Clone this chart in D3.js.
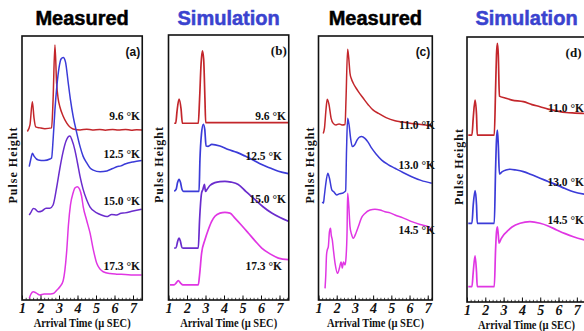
<!DOCTYPE html>
<html><head><meta charset="utf-8">
<script src="https://cdn.jsdelivr.net/npm/d3@7"></script>
<style>
html,body{margin:0;padding:0;background:#fff;}
svg{display:block;}
</style></head>
<body>
<svg id="chart" width="584" height="331"></svg>
<script>
// ---------- DATA ----------
const xTickValues = [1, 2, 3, 4, 5, 6, 7];
const xAxisTitle = "Arrival Time (\u00b5 SEC)";
const yAxisTitle = "Pulse Height";
const panelTitles = ["Measured", "Simulation", "Measured", "Simulation"];
const panelLetters = ["(a)", "(b)", "(c)", "(d)"];
const tempsAB = ["9.6 \u00b0K", "12.5 \u00b0K", "15.0 \u00b0K", "17.3 \u00b0K"];
const tempsCD = ["11.0 \u00b0K", "13.0 \u00b0K", "14.5 \u00b0K"];

// Panel (a) measured: [arrival time, pulse height (arb.)]
const a_96 = [[1.29,63.8],[1.43,66.3],[1.56,75.1],[1.65,68.9],[1.74,65.6],[1.97,65.2],[2.24,64.9],[2.6,65.2],[2.68,75.8],[2.78,96.6],[2.87,82.2],[2.95,76.5],[3.05,73.1],[3.22,69.7],[3.42,67],[3.76,64.8],[4.14,64.4],[4.5,64.7],[4.8,64.4],[5.2,64.6],[5.5,64.3],[5.9,64.6],[6.2,64.4],[6.6,64.6],[6.9,64.3],[7.2,64.5],[7.49,64.4]];
const a_125 = [[1.39,50.5],[1.49,53.8],[1.56,55.6],[1.65,54.5],[1.88,53],[2.19,52.8],[2.51,53.4],[2.6,53.8],[2.68,60.6],[2.78,72],[2.89,81.4],[3.0,87.9],[3.11,91.3],[3.23,91.9],[3.35,90.2],[3.5,82.2],[3.62,75.8],[3.77,69.4],[3.95,63.6],[4.14,58.1],[4.3,54.5],[4.5,51.9],[4.68,50],[4.85,49.2],[5.22,48.6],[5.59,48.9],[5.9,49.8],[6.12,50.5],[6.35,50.8],[6.57,51.5],[7.0,52.3],[7.47,52.8]];
const a_150 = [[1.39,32.2],[1.49,33.3],[1.61,34.7],[1.7,34.5],[1.88,33.4],[2.08,33.7],[2.3,34.8],[2.51,34.8],[2.68,36],[2.88,42.9],[3.05,50],[3.22,56.1],[3.38,60.2],[3.49,61.7],[3.59,62.1],[3.7,60.6],[3.86,56.8],[4.0,51.9],[4.14,46.7],[4.3,42],[4.5,37.9],[4.68,35.2],[5.04,33],[5.3,32.2],[5.58,31.6],[5.85,32.4],[6.12,32.2],[6.35,32.9],[6.57,33],[7.0,33.7],[7.47,34.4]];
const a_173 = [[1.39,0.6],[1.49,2.3],[1.61,3.1],[1.76,2.7],[1.97,1.9],[2.19,2.3],[2.41,2.3],[2.69,2.5],[2.89,3.8],[3.05,5],[3.22,7.2],[3.32,11.4],[3.42,18.9],[3.51,28.4],[3.62,36],[3.76,40.5],[3.86,42.4],[3.99,42.9],[4.11,42],[4.22,39.4],[4.31,35.3],[4.49,30.3],[4.68,25.3],[4.86,18.9],[5.04,13.9],[5.22,11.7],[5.39,10.7],[5.76,10],[6.12,9.8],[6.57,9.7],[7.0,9.5],[7.47,9.5]];

// Panel (b) simulation
const b_96 = [[1.31,66.7],[1.39,66.7],[1.46,71.2],[1.57,75.8],[1.68,72],[1.75,66.7],[2.16,66.7],[2.61,66.7],[2.68,75.8],[2.76,89],[2.83,94],[2.9,90.9],[2.97,75.8],[3.01,66.9],[7.5,66.9]];
const b_125 = [[1.31,41],[1.41,41.7],[1.49,44.3],[1.57,45.5],[1.65,44.3],[1.73,41.7],[1.81,41],[2.65,41],[2.7,53],[2.78,62.5],[2.88,66.3],[2.96,64.4],[3.03,58.1],[3.14,58],[3.34,58.7],[3.78,58.1],[4.23,56.8],[4.7,55.7],[5.14,54.3],[5.57,52.8],[6.04,51.1],[6.49,49.8],[6.94,48.6],[7.48,47.7]];
const b_150 = [[1.31,19.6],[1.41,19.7],[1.49,22],[1.57,23.4],[1.65,22],[1.73,19.7],[1.81,19.6],[2.61,19.6],[2.68,30.3],[2.79,40.4],[2.86,41.7],[2.94,43.6],[3.0,41],[3.08,41.7],[3.24,43.2],[3.51,44.3],[3.78,44.7],[4.05,44.8],[4.38,44.5],[4.77,43.6],[5.19,40.9],[5.68,37.9],[6.11,35.2],[6.58,32.8],[7.03,31.1],[7.48,29.7]];
const b_173 = [[1.08,5.7],[1.3,5.7],[1.41,6.4],[1.53,7.3],[1.65,6.4],[1.78,5.7],[2.61,5.7],[2.68,9.5],[2.79,17.7],[2.97,22.7],[3.15,26.5],[3.32,29.5],[3.51,31.6],[3.78,32.8],[4.05,33.1],[4.32,32.8],[4.59,30.9],[4.92,28.4],[5.31,25.3],[5.68,22.3],[6.04,19.6],[6.49,17.4],[6.94,15.8],[7.48,15.2]];

// Panel (c) measured
const c_110 = [[1.26,63.1],[1.33,65.2],[1.41,72],[1.48,76],[1.58,73.9],[1.69,68.9],[1.81,66.9],[1.96,66.3],[2.13,66.7],[2.29,66.3],[2.46,66.5],[2.51,75.8],[2.6,95],[2.66,91.7],[2.73,85.9],[2.81,83.7],[2.91,82.1],[3.06,80.3],[3.19,78.9],[3.45,76.5],[3.74,73.9],[3.99,72],[4.29,70.7],[4.71,69.1],[5.2,67.9],[5.64,67.4],[6.12,66.9],[6.63,66.5],[7.22,65.9]];
const c_130 = [[1.21,37.2],[1.27,36.7],[1.32,39.4],[1.38,42.9],[1.51,48],[1.6,46.2],[1.73,41.7],[1.85,40.9],[2.0,39.8],[2.13,40.2],[2.36,40.6],[2.49,41.3],[2.54,56.8],[2.6,68.8],[2.68,66.3],[2.76,61.4],[2.86,58.1],[2.98,58.7],[3.12,60.6],[3.25,61.7],[3.37,61.9],[3.55,61.2],[3.72,59.8],[3.92,57.5],[4.16,55.3],[4.47,53],[4.82,51.3],[5.2,49.9],[5.64,48.3],[6.12,46.7],[6.63,45.3],[7.22,44.2]];
const c_145 = [[1.36,4.4],[1.4,9.5],[1.44,17],[1.48,18.9],[1.54,20.2],[1.6,25.8],[1.66,27.2],[1.7,24.6],[1.76,22.7],[1.82,18.9],[1.91,13.9],[2.05,10.1],[2.15,12.1],[2.24,14.4],[2.31,12.1],[2.37,14.4],[2.46,13.3],[2.51,15.9],[2.57,26.5],[2.6,40.4],[2.66,36],[2.73,27.8],[2.81,25],[2.91,23.4],[3.06,25.4],[3.19,27.8],[3.36,31.1],[3.55,32.8],[3.83,34.1],[4.1,34.4],[4.38,34.1],[4.65,33.4],[4.93,33],[5.2,32.2],[5.64,31.1],[6.12,29.7],[6.58,28.6],[7.03,27.8],[7.22,26.5]];

// Panel (d) simulation
const d_110 = [[1.07,63],[1.27,63],[1.34,69.4],[1.44,76.2],[1.52,70.6],[1.56,63],[2.49,63],[2.56,80],[2.61,93.2],[2.66,97.6],[2.71,93.2],[2.77,77.7],[3.08,77],[3.46,76.2],[4.08,75.6],[4.55,74.5],[4.99,73.7],[5.43,72.8],[5.9,72.1],[6.41,71.5],[6.9,71.3],[7.5,71.1]];
const d_130 = [[1.07,29.7],[1.27,29.7],[1.34,36.6],[1.44,42],[1.52,36.6],[1.56,29.7],[2.49,29.7],[2.56,49.8],[2.61,61.1],[2.66,64.9],[2.71,59.2],[2.77,48.3],[2.91,49.1],[3.13,49.8],[3.35,50.1],[3.68,49.8],[4.08,49.2],[4.5,48.1],[4.99,46.7],[5.43,45.5],[5.9,44.2],[6.36,42.8],[6.81,41.6],[7.5,40.6]];
const d_145 = [[1.07,5.8],[1.27,5.8],[1.34,11.3],[1.44,17.4],[1.52,11.3],[1.56,5.8],[2.49,5.8],[2.56,19.6],[2.61,26.4],[2.66,28.4],[2.71,25.3],[2.75,22.2],[2.86,23.8],[3.0,25.3],[3.17,26.5],[3.46,28.3],[3.9,29.7],[4.44,30.3],[4.99,29.7],[5.43,28.7],[5.9,27.2],[6.36,25.8],[6.81,24.6],[7.5,23.2]];

// ---------- STYLE / LAYOUT ----------
const RED = "#c3262b", BLUE = "#3b3bd8", PURPLE = "#6a2ccd", MAGENTA = "#e036e3";
const colorsAB = [RED, BLUE, PURPLE, MAGENTA];
const colorsCD = [RED, BLUE, MAGENTA];

const panels = [
  {left:22, right:142.25, top:36, bottom:300, xMax:7.5, title:0, titleColor:"#000", letterSans:true,
   series:[a_96,a_125,a_150,a_173], temps:tempsAB, colors:colorsAB, sw:1.5,
   labelX:[140,140,140,140], labelY:[120,158,205,270], yTitleX:16.5},
  {left:168.5, right:288.75, top:35, bottom:300, xMax:7.5, title:1, titleColor:"#3a43cf", letterSans:false,
   series:[b_96,b_125,b_150,b_173], temps:tempsAB, colors:colorsAB, sw:1.7,
   labelX:[286,282,286,282], labelY:[120,160,203,270], yTitleX:163},
  {left:318.5, right:432.3, top:36, bottom:300, xMax:7.25, title:2, titleColor:"#000", letterSans:true,
   series:[c_110,c_130,c_145], temps:tempsCD, colors:colorsCD, sw:1.5,
   labelX:[435,435,435], labelY:[129,168.5,233.5], yTitleX:313.5},
  {left:467, right:586, top:37, bottom:302, xMax:7.5, title:3, titleColor:"#3a43cf", letterSans:false,
   series:[d_110,d_130,d_145], temps:tempsCD, colors:colorsCD, sw:1.7,
   labelX:[584,584,584], labelY:[111.5,186,224], yTitleX:462.5}
];

const svg = d3.select("#chart");
const serif = "'Liberation Serif','Times New Roman',serif";
const sans = "'Liberation Sans',Arial,Helvetica,sans-serif";

panels.forEach((p, i) => {
  const x = d3.scaleLinear().domain([1, p.xMax]).range([p.left, p.right]);
  const y = d3.scaleLinear().domain([0, 100]).range([p.bottom, p.top]);
  const g = svg.append("g");
  const cx = (p.left + p.right) / 2;

  // title
  svg.append("text").attr("x", cx).attr("y", 24.5).attr("text-anchor", "middle")
    .attr("font-family", sans).attr("font-weight", "bold").attr("font-size", 20)
    .attr("fill", p.titleColor).attr("stroke", p.titleColor).attr("stroke-width", 0.5)
    .text(panelTitles[p.title]);

  // curves
  const line = d3.line().x(d => x(d[0])).y(d => y(d[1])).curve(d3.curveMonotoneX);
  const clipId = "clip" + i;
  svg.append("clipPath").attr("id", clipId).append("rect")
    .attr("x", p.left).attr("y", p.top).attr("width", p.right - p.left).attr("height", p.bottom - p.top);
  const cg = g.append("g").attr("clip-path", `url(#${clipId})`);
  p.series.forEach((s, k) => {
    cg.append("path").datum(s).attr("d", line).attr("fill", "none")
      .attr("stroke", p.colors[k]).attr("stroke-width", p.sw).attr("stroke-linejoin", "round");
  });

  // minor ticks
  const minor = d3.range(1, p.xMax + 0.001, 0.2).map(v => +v.toFixed(2));
  g.append("g").attr("transform", `translate(0,${p.bottom})`)
    .call(d3.axisBottom(x).tickValues(minor).tickSize(-2.2).tickFormat(""))
    .call(a => a.select(".domain").remove())
    .call(a => a.selectAll("line").attr("stroke", "#222").attr("stroke-width", 0.8));
  // major ticks
  const ax = g.append("g").attr("transform", `translate(0,${p.bottom})`)
    .call(d3.axisBottom(x).tickValues(xTickValues).tickSize(-4.5).tickPadding(3.5).tickFormat(d3.format("d")))
    .call(a => a.select(".domain").remove());
  ax.selectAll("line").attr("stroke", "#111").attr("stroke-width", 1);
  ax.selectAll("text").attr("font-family", serif).attr("font-style", "italic")
    .attr("font-weight", "bold").attr("font-size", 14).attr("fill", "#111");

  // frame
  g.append("rect").attr("x", p.left).attr("y", p.top)
    .attr("width", p.right - p.left).attr("height", p.bottom - p.top)
    .attr("fill", "none").attr("stroke", "#111").attr("stroke-width", 1.6);

  // x axis title
  g.append("text").attr("x", cx).attr("y", p.bottom + 26.5).attr("text-anchor", "middle")
    .attr("font-family", serif).attr("font-weight", "bold").attr("font-size", 11.5)
    .attr("textLength", 97).attr("lengthAdjust", "spacingAndGlyphs")
    .attr("fill", "#111").text(xAxisTitle);

  // y axis title
  g.append("text").attr("transform", `translate(${p.yTitleX},${(p.top + p.bottom) / 2 - 3}) rotate(-90)`)
    .attr("text-anchor", "middle").attr("font-family", serif).attr("font-weight", "bold")
    .attr("font-size", 12).attr("letter-spacing", 1).attr("fill", "#111").text(yAxisTitle);

  // panel letter
  g.append("text").attr("x", p.right - (i === 3 ? 4.5 : 2)).attr("y", p.top + 20)
    .attr("text-anchor", "end")
    .attr("font-family", p.letterSans ? sans : serif).attr("font-weight", "bold")
    .attr("font-size", p.letterSans ? 12 : 13).attr("fill", "#111").text(panelLetters[i]);

  // temperature labels
  p.temps.forEach((t, k) => {
    g.append("text").attr("x", p.labelX[k]).attr("y", p.labelY[k]).attr("text-anchor", "end")
      .attr("font-family", serif).attr("font-weight", "bold").attr("font-size", 11.5)
      .attr("fill", "#111").text(t);
  });
});
</script>
</body></html>
